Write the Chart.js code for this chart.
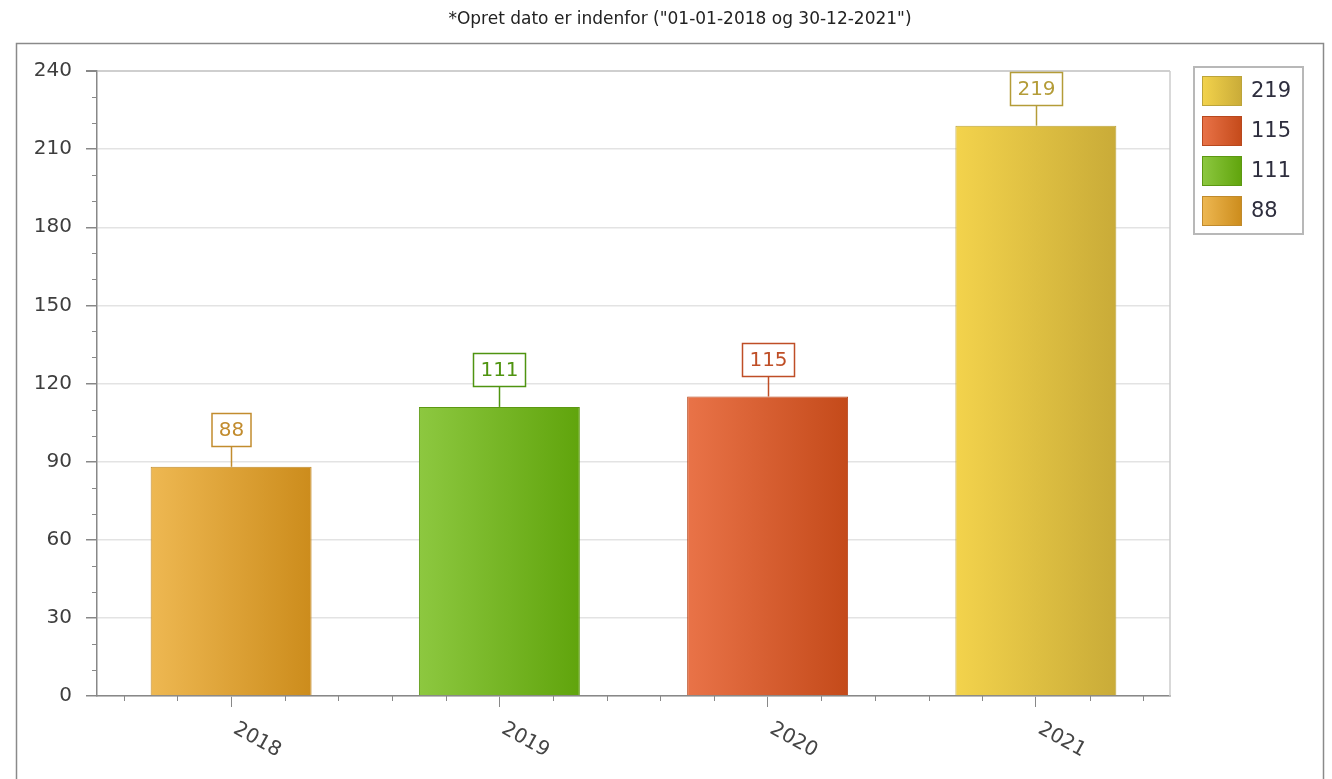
<!DOCTYPE html>
<html>
<head>
<meta charset="utf-8">
<script src="https://cdn.jsdelivr.net/npm/chart.js@4"></script>
<style>
  html, body { margin: 0; padding: 0; background: #fff; }
  canvas { display: block; }
</style>
</head>
<body>
<canvas id="yearChart" width="1332" height="779"></canvas>
<script>
// Data
const years = ["2018", "2019", "2020", "2021"];
const counts = [88, 111, 115, 219];
const yMax = 240;
const yStep = 30;
const titleText = '*Opret dato er indenfor ("01-01-2018 og 30-12-2021")';

// Styles per bar
const barLight = ["#eeb852", "#8dc840", "#e97348", "#f3d34c"];
const barDark = ["#cc8c1c", "#60a40c", "#c44a1a", "#c9ab38"];
const barEdge = ["#c08a2c", "#5c9812", "#b8481e", "#bca43a"];
const labelInk = ["#c28c2e", "#4f9410", "#bf4e26", "#b49c38"];

const FONT = "'DejaVu Sans', Verdana, sans-serif";
const BAR_PCT = 0.6;

const barGradient = (chart, i) => {
  const xs = chart.scales.x;
  if (!xs || !chart.chartArea) return barDark[i];
  const c = xs.getPixelForValue(i);
  const half = xs.width / years.length * BAR_PCT / 2;
  const g = chart.ctx.createLinearGradient(c - half, 0, c + half, 0);
  g.addColorStop(0, barLight[i]);
  g.addColorStop(1, barDark[i]);
  return g;
};

// Title, outer frame, plot right edge, minor ticks
const framePlugin = {
  id: "frame",
  beforeDraw(chart) {
    const ctx = chart.ctx;
    ctx.save();
    ctx.strokeStyle = "#8a8a8a";
    ctx.lineWidth = 1.5;
    ctx.strokeRect(16.5, 43.5, 1307, 800);
    ctx.fillStyle = "#222";
    ctx.font = "17px " + FONT;
    ctx.textAlign = "center";
    ctx.textBaseline = "middle";
    ctx.fillText(titleText, 680, 20);
    ctx.restore();
  },
  beforeDatasetsDraw(chart) {
    const { ctx, chartArea } = chart;
    ctx.save();
    ctx.strokeStyle = "#cccccc";
    ctx.lineWidth = 1.5;
    ctx.beginPath();
    ctx.moveTo(chartArea.right, chartArea.top);
    ctx.lineTo(chartArea.right, chartArea.bottom);
    ctx.stroke();

    const xs = chart.scales.x, ys = chart.scales.y;
    ctx.strokeStyle = "#888";
    ctx.lineWidth = 1;
    ctx.beginPath();
    for (let v = 10; v < yMax; v += 10) {
      if (v % yStep === 0) continue;
      const py = Math.round(ys.getPixelForValue(v)) + 0.5;
      ctx.moveTo(chartArea.left - 5, py);
      ctx.lineTo(chartArea.left, py);
    }
    years.forEach((_, i) => {
      [-0.4, -0.2, 0.2, 0.4].forEach(o => {
        const px = Math.round(xs.getPixelForValue(i + o)) + 0.5;
        ctx.moveTo(px, chartArea.bottom);
        ctx.lineTo(px, chartArea.bottom + 5);
      });
    });
    ctx.stroke();
    ctx.restore();
  }
};

// Boxed value labels above bars
const valueLabels = {
  id: "valueLabels",
  afterDatasetsDraw(chart) {
    const ctx = chart.ctx;
    const xs = chart.scales.x, ys = chart.scales.y;
    ctx.save();
    ctx.font = "20px " + FONT;
    ctx.textAlign = "center";
    ctx.textBaseline = "middle";
    counts.forEach((v, i) => {
      const cx = Math.round(xs.getPixelForValue(i)) + 0.5;
      const top = ys.getPixelForValue(v);
      const stem = 21, h = 33;
      const w = Math.round(ctx.measureText(String(v)).width) + 14;
      const boxBottom = Math.round(top - stem) + 0.5;
      ctx.strokeStyle = labelInk[i];
      ctx.lineWidth = 1.5;
      ctx.beginPath();
      ctx.moveTo(cx, top);
      ctx.lineTo(cx, boxBottom);
      ctx.stroke();
      ctx.fillStyle = "#fff";
      ctx.fillRect(cx - w / 2, boxBottom - h, w, h);
      ctx.strokeRect(cx - w / 2, boxBottom - h, w, h);
      ctx.fillStyle = labelInk[i];
      ctx.fillText(String(v), cx, boxBottom - h / 2 + 1);
    });
    ctx.restore();
  }
};

// Slanted year labels + legend
const extras = {
  id: "extras",
  afterDraw(chart) {
    const ctx = chart.ctx;
    const xs = chart.scales.x;
    ctx.save();
    ctx.font = "20px " + FONT;
    ctx.fillStyle = "#444";
    ctx.textAlign = "center";
    ctx.textBaseline = "middle";
    years.forEach((y, i) => {
      const px = xs.getPixelForValue(i);
      ctx.save();
      ctx.translate(px + 26, 740);
      ctx.rotate(29 * Math.PI / 180);
      ctx.fillText(y, 0, 0);
      ctx.restore();
    });

    // legend
    const lx = 1194, ly = 67;
    ctx.strokeStyle = "#b8b8b8";
    ctx.lineWidth = 2;
    ctx.fillStyle = "#fff";
    ctx.fillRect(lx, ly, 109, 167);
    ctx.strokeRect(lx, ly, 109, 167);
    ctx.textAlign = "left";
    ctx.font = "21px " + FONT;
    const order = counts.map((_, i) => i).reverse();
    order.forEach((i, row) => {
      const sy = ly + 9 + row * 40;
      const g = ctx.createLinearGradient(lx + 8, 0, lx + 48, 0);
      g.addColorStop(0, barLight[i]);
      g.addColorStop(1, barDark[i]);
      ctx.fillStyle = g;
      ctx.fillRect(lx + 8, sy, 40, 30);
      ctx.strokeStyle = barEdge[i];
      ctx.lineWidth = 1;
      ctx.strokeRect(lx + 8.5, sy + 0.5, 39, 29);
      ctx.fillStyle = "#2e2e3e";
      ctx.fillText(String(counts[i]), lx + 57, sy + 16);
    });
    ctx.restore();
  }
};

new Chart(document.getElementById("yearChart"), {
  type: "bar",
  data: {
    labels: years,
    datasets: [{
      data: counts,
      backgroundColor: c => barGradient(c.chart, c.dataIndex),
      borderColor: barEdge,
      borderWidth: 1,
      barPercentage: BAR_PCT,
      categoryPercentage: 1
    }]
  },
  options: {
    responsive: false,
    animation: false,
    layout: { padding: { left: 0, right: 162, top: 71, bottom: 0 } },
    plugins: {
      legend: { display: false },
      tooltip: { enabled: false },
      title: { display: false }
    },
    scales: {
      x: {
        offset: true,
        grid: { drawOnChartArea: false, offset: false, tickLength: 11, tickColor: "#888", lineWidth: 1 },
        border: { color: "#888", width: 1.5 },
        ticks: { display: false },
        afterFit: s => { s.height = 83; }
      },
      y: {
        min: 0,
        max: yMax,
        ticks: { stepSize: yStep, color: "#3e3e3e", padding: 14, font: { family: FONT, size: 20 } },
        grid: {
          color: c => c.tick && c.tick.value === yMax ? "#cfcfcf" : "#e3e3e3",
          lineWidth: c => c.tick && c.tick.value === yMax ? 2 : 1.5,
          tickColor: "#888",
          tickLength: 11
        },
        border: { color: "#888", width: 1.5 },
        afterFit: s => { s.width = 97; }
      }
    }
  },
  plugins: [framePlugin, valueLabels, extras]
});
</script>
</body>
</html>
